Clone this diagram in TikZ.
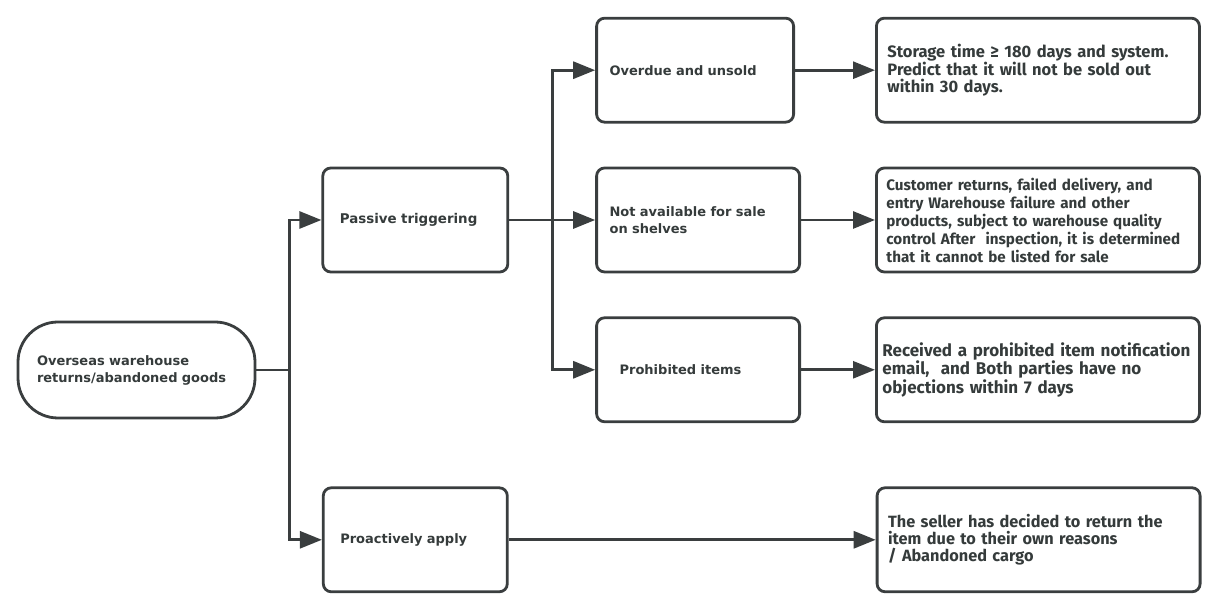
\documentclass[tikz,border=0pt]{standalone}
\usepackage{fontspec}
\setmainfont{Fira Sans}
\newfontfamily\stagefont{DejaVu Sans}
\usetikzlibrary{positioning,arrows.meta,calc}
\definecolor{ink}{HTML}{3A3E3F}
\definecolor{txt}{HTML}{353B3B}

\begin{document}
\begin{tikzpicture}[
    x=1pt, y=1pt,
    node distance=43pt,
    box/.style={draw=ink, line width=2.8pt, fill=white, rounded corners=8pt, minimum height=104pt, align=left, inner ysep=0pt, text=txt},
    stage/.style={box, font=\stagefont\bfseries\fontsize{13}{17}\selectfont},
    result/.style={box, text width=301pt, inner xsep=11pt, font=\bfseries\fontsize{16.3}{17}\selectfont},
    link/.style={draw=ink, line width=2.8pt},
    arr/.style={link, -{Triangle[length=22pt, width=17pt]}}
]
    \useasboundingbox (0,0) rectangle (1209,609);

    % Root
    \node[stage, rounded corners=40pt, minimum height=96pt, text width=199pt, inner xsep=19pt] (start) at (136.5,239) {Overseas warehouse\\returns/abandoned goods};

    % Triggers
    \node[stage, text width=151pt, inner xsep=17pt, font=\stagefont\bfseries\fontsize{13.4}{17}\selectfont, right=65pt of start, yshift=150pt] (passive) {Passive triggering};
    \node[stage, text width=150pt, inner xsep=17pt, below=213pt of passive] (proactive) {Proactively apply};

    % Cases
    \node[stage, text width=177pt, inner xsep=13pt, right=86pt of passive] (notavail) {Not available for sale\\on shelves};
    \node[stage, text width=171pt, inner xsep=13pt, above=of notavail.north west, anchor=south west] (overdue) {Overdue and unsold};
    \node[stage, text width=157pt, inner xsep=23pt, below=of notavail] (prohibited) {Prohibited items};

    % Conditions
    \node[result, right=80pt of overdue, font=\bfseries\fontsize{16.5}{17}\selectfont] (res1) {Storage time ≥ 180 days and system.\\Predict that it will not be sold out\\within 30 days.};
    \node[result, right=74pt of notavail, text width=303pt, inner xsep=10pt, font=\bfseries\fontsize{15.2}{18}\selectfont] (res2) {Customer returns, failed delivery, and\\entry Warehouse failure and other\\products, subject to warehouse quality\\control After\ \ inspection, it is determined\\that it cannot be listed for sale};
    \node[result, right=74pt of prohibited, text width=311pt, inner xsep=6pt, font=\bfseries\fontsize{17}{17}\selectfont] (res3) {Received a prohibited item notification\\email,\ \ and Both parties have no\\objections within 7 days};
    \node[result, right=367pt of proactive] (res4) {The seller has decided to return the\\item due to their own reasons\\/ Abandoned cargo};

    % Connections
    \draw[link] (start.east) -- ++(33,0) coordinate (j1);
    \draw[arr] (j1) |- (passive.west);
    \draw[arr] (j1) |- (proactive.west);
    \draw[arr] (passive.east) -- (notavail.west);
    \coordinate (j2) at ($(passive.east)+(43,0)$);
    \draw[arr] (j2) |- (overdue.west);
    \draw[arr] (j2) |- (prohibited.west);
    \draw[arr] (overdue) -- (res1);
    \draw[arr] (notavail) -- (res2);
    \draw[arr] (prohibited) -- (res3);
    \draw[arr] (proactive) -- (res4);
\end{tikzpicture}
\end{document}
